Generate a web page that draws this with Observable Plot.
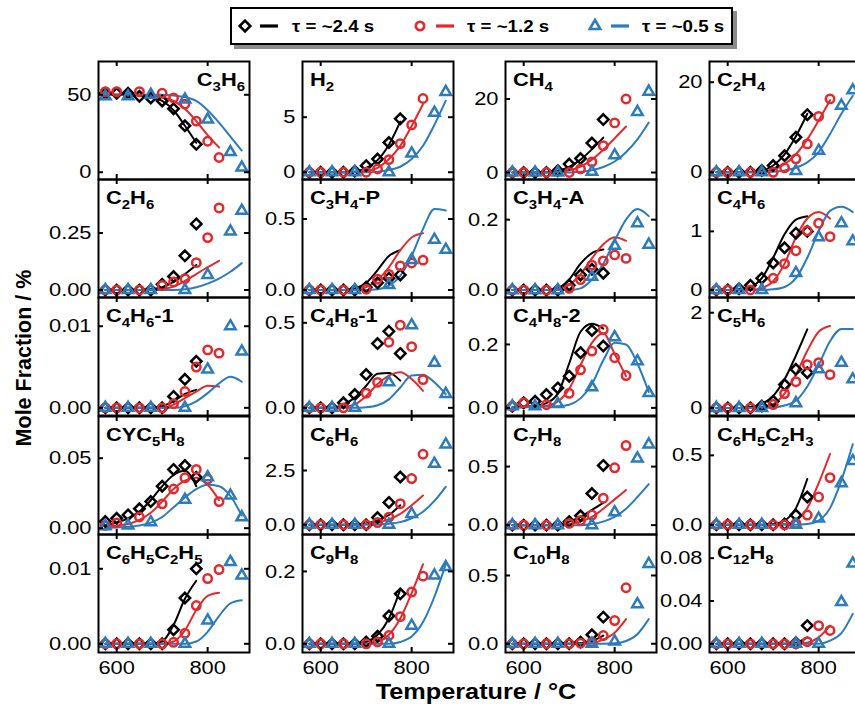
<!DOCTYPE html>
<html><head><meta charset="utf-8">
<script src="https://cdn.jsdelivr.net/npm/d3@7"></script>
<script src="https://cdn.jsdelivr.net/npm/@observablehq/plot@0.6"></script>
<style>
html,body{margin:0;padding:0;background:#fff;}
#root{position:relative;width:855px;height:704px;overflow:hidden;font-family:"Liberation Sans",Arial,sans-serif;}
.panel{position:absolute;}
#legend{position:absolute;left:230px;top:7px;width:503px;height:38px;box-sizing:border-box;border:2px solid #000;background:#fff;box-shadow:4px 4px 0 #8c8c8c;}
</style></head><body><div id="root"></div>
<script>
// ---------------- data ----------------
const species = ["C3H6","H2","CH4","C2H4","C2H6","C3H4-P","C3H4-A","C4H6","C4H6-1","C4H8-1","C4H8-2","C5H6","CYC5H8","C6H6","C7H8","C6H5C2H3","C6H5C2H5","C9H8","C10H8","C12H8"];
const legendLabels = ["τ = ~2.4 s","τ = ~1.2 s","τ = ~0.5 s"];
const xTicks = [600, 800];
const xTitle = "Temperature / °C";
const yTitle = "Mole Fraction / %";
const yTicks = [[0,50],[0,5],[0,20],[0,20],[0,0.25],[0,0.5],[0,0.2],[0,1],[0,0.01],[0,0.5],[0,0.2],[0,2],[0,0.05],[0,2.5],[0,0.5],[0,0.5],[0,0.01],[0,0.2],[0,0.5],[0,0.04,0.08]];
const yTickLabels = [["0","50"],["0","5"],["0","20"],["0","20"],["0.00","0.25"],["0.0","0.5"],["0.0","0.2"],["0","1"],["0.00","0.01"],["0.0","0.5"],["0.0","0.2"],["0","2"],["0.00","0.05"],["0.0","2.5"],["0.0","0.5"],["0.0","0.5"],["0.00","0.01"],["0.0","0.2"],["0.0","0.5"],["0.00","0.04","0.08"]];
const yDomains = [[-4.7,71.5],[-0.66,10.06],[-1.9,30.2],[-1.6,24.6],[-0.033,0.485],[-0.053,0.778],[-0.021,0.314],[-0.129,1.886],[-0.00094,0.01352],[-0.045,0.649],[-0.024,0.348],[-0.16,2.32],[-0.0045,0.0798],[-0.45,4.99],[-0.08,0.928],[-0.07,0.78],[-0.00116,0.01457],[-0.024,0.302],[-0.064,0.8],[-0.0081,0.1021]];

// measured temperatures (°C)
const T24 = [575,600,625,650,675,700,725,750,775];
const T12 = [575,600,650,700,725,750,775,800,825];
const T05 = [575,625,675,750,800,850,875];
// model temperatures (°C)
const M24 = [575,600,625,650,675,700,725,750,775];
const M12 = [575,600,625,650,675,700,725,750,775,800,825];
const M05 = [575,600,625,650,675,700,725,750,775,800,825,850,875];

// experiment, tau ~2.4 s (black diamonds)
const expBlack = [
 [51,51,51,49,48,46,41,30,18],
 [0,0,0,0,0.1,0.6,1.2,2.7,4.85],
 [0,0,0,0,0.5,2.3,3.8,8,14.4],
 [0,0,0,0,0.4,1.5,3.7,7.8,12.8],
 [0,0,0,0,0,0.025,0.059,0.15,0.29],
 [0,0,0,0,0,0.02,0.05,0.083,0.106],
 [0,0,0,0,0,0.014,0.043,0.059,0.048],
 [0,0,0.02,0.08,0.2,0.46,0.72,0.97,1.0],
 [0,0,0,0,0,0,0.0014,0.0035,0.0057],
 [0,0,0,0.03,0.078,0.196,0.378,0.45,0.32],
 [0.005,0.016,0.021,0.042,0.063,0.1,0.174,0.244,0.195],
 [0,0,0,0,0.04,0.14,0.49,0.81,0.74],
 [0.0048,0.0071,0.0095,0.0139,0.019,0.03,0.042,0.0448,0.0364],
 [0,0,0,0,0,0,0.33,1.03,2.2],
 [0,0,0,0,0,0.03,0.08,0.27,0.51],
 [0,0,0,0,0,0,0.005,0.07,0.2],
 [0,0,0,0,0,0,0.00187,0.0061,0.01],
 [0,0,0,0,0,0.005,0.021,0.077,0.138],
 [0,0,0,0,0,0,0.012,0.066,0.195],
 [0,0,0,0,0,0,0,0.001,0.017]
];
// experiment, tau ~1.2 s (red circles)
const expRed = [
 [52,52,52,51,48,44,33,20,9.5],
 [0,0,0,0,0.3,1.15,2.6,4.3,6.7],
 [0,0,0,0,1,2.9,7.3,13.5,20],
 [0,0,0,0,1,3,6.3,12.4,16.3],
 [0,0,0,0.02,0.035,0.05,0.12,0.23,0.36],
 [0,0,0,0.005,0.076,0.11,0.17,0.19,0.21],
 [0,0,0,0.005,0.03,0.071,0.083,0.1,0.09],
 [0,0,0,0.2,0.45,0.67,1.01,1.14,0.91],
 [0,0,0,0,0.0005,0.002,0.005,0.0071,0.0067],
 [0,0,0,0.086,0.15,0.386,0.486,0.36,0.166],
 [0.005,0.016,0.01,0.046,0.12,0.179,0.247,0.158,0.102],
 [0,0,0,0.07,0.3,0.55,0.91,0.95,0.7],
 [0.002,0.0038,0.008,0.0174,0.028,0.036,0.042,0.035,0.019],
 [0,0,0,0,0.1,0.35,0.97,2.13,3.25],
 [0,0,0,0.015,0.04,0.086,0.23,0.49,0.68],
 [0,0,0,0,0,0.01,0.07,0.2,0.34],
 [0,0,0,0,0.0002,0.0014,0.0051,0.0087,0.0099],
 [0,0,0,0,0.005,0.023,0.075,0.143,0.187],
 [0,0,0,0,0.005,0.012,0.06,0.17,0.41],
 [0,0,0,0,0,0,0.002,0.017,0.0125]
];
// experiment, tau ~0.5 s (blue triangles)
const expBlue = [
 [49,49,50,47,34,13,3],
 [0,0,0,0,1.7,5.4,7.3],
 [0,0,0,0.2,4.7,16.5,22],
 [0,0,0,0.3,4.8,14.8,18.2],
 [0,0,0,0,0.066,0.257,0.348],
 [0,0,0,0.035,0.212,0.354,0.283],
 [0,0,0,0.038,0.126,0.19,0.129],
 [0,0,0,0.29,0.9,1.14,0.83],
 [0,0,0,0,0.0047,0.01,0.0069],
 [0,0,0,0.15,0.486,0.265,0.082],
 [0.005,0.005,0.012,0.065,0.223,0.147,0.047],
 [0,0,0,0.1,0.81,0.95,0.6],
 [0.0015,0.002,0.0043,0.0203,0.0364,0.0233,0.0079],
 [0,0,0,0,0.5,2.81,3.7],
 [0,0,0,0,0.11,0.57,0.69],
 [0,0,0,0,0.045,0.3,0.46],
 [0,0,0,0,0.0031,0.0109,0.0091],
 [0,0,0,0,0.05,0.189,0.212],
 [0,0,0,0,0.017,0.29,0.585],
 [0,0,0,0,0,0.039,0.075]
];
// model, tau ~2.4 s (black lines)
const modBlack = [
 [50,50,50,49.5,48.5,46,40,30,19],
 [0,0,0,0,0.05,0.4,1.1,2.5,4.6],
 [0,0,0,0.1,0.5,1.5,3.5,6.3,9.5],
 [0,0,0,0.1,0.4,1.5,4,8,13],
 [0,0,0,0,0.003,0.012,0.035,0.07,0.11],
 [0,0,0,0,0.01,0.05,0.14,0.24,0.28],
 [0,0,0,0,0.005,0.03,0.075,0.105,0.115],
 [0,0,0.01,0.05,0.2,0.55,0.95,1.2,1.26],
 [0,0,0,0,0,0.0002,0.0008,0.0017,0.0022],
 [0,0,0,0.02,0.06,0.13,0.2,0.205,0.16],
 [0.002,0.004,0.007,0.015,0.045,0.14,0.24,0.265,0.25],
 [0,0,0,0.02,0.08,0.25,0.6,1.1,1.65],
 [0.002,0.004,0.007,0.012,0.02,0.03,0.038,0.041,0.03],
 [0,0,0,0,0.02,0.06,0.2,0.45,0.9],
 [0,0,0,0,0.005,0.03,0.07,0.13,0.19],
 [0,0,0,0,0,0.005,0.03,0.12,0.33],
 [0,0,0,0,0,0.0003,0.0025,0.006,0.0084],
 [0,0,0,0,0,0.005,0.025,0.07,0.15],
 [0,0,0,0,0,0,0.005,0.02,0.06],
 [0,0,0,0,0,0,0,0.001,0.006]
];
// model, tau ~1.2 s (red lines)
const modRed = [
 [50,50,50,50,49.5,48.5,46,41,33,24,16],
 [0,0,0,0,0,0.1,0.4,1.2,2.4,4.2,6.2],
 [0,0,0,0,0.1,0.6,1.6,3.5,6.2,9.3,12.5],
 [0,0,0,0,0.2,0.6,1.8,4,7.3,11.5,16],
 [0,0,0,0,0,0.004,0.015,0.04,0.07,0.1,0.128],
 [0,0,0,0,0,0.02,0.07,0.16,0.28,0.37,0.4],
 [0,0,0,0,0.003,0.015,0.045,0.09,0.13,0.15,0.14],
 [0,0,0,0,0.03,0.15,0.45,0.9,1.22,1.33,1.22],
 [0,0,0,0,0,0,0.0004,0.0012,0.002,0.0027,0.0026],
 [0,0,0,0.005,0.02,0.07,0.14,0.19,0.21,0.17,0.1],
 [0.001,0.002,0.004,0.007,0.02,0.06,0.135,0.205,0.235,0.17,0.1],
 [0,0,0,0,0.02,0.08,0.3,0.7,1.2,1.6,1.72],
 [0.001,0.002,0.003,0.006,0.011,0.019,0.028,0.034,0.036,0.031,0.02],
 [0,0,0,0,0,0.03,0.1,0.25,0.5,0.9,1.35],
 [0,0,0,0,0,0.01,0.03,0.07,0.14,0.22,0.3],
 [0,0,0,0,0,0,0.005,0.03,0.12,0.3,0.51],
 [0,0,0,0,0,0,0.0003,0.0018,0.0045,0.0064,0.0068],
 [0,0,0,0,0,0,0.005,0.025,0.07,0.14,0.22],
 [0,0,0,0,0,0,0,0.005,0.03,0.08,0.18],
 [0,0,0,0,0,0,0,0,0.001,0.006,0.017]
];
// model, tau ~0.5 s (blue lines)
const modBlue = [
 [50,50,50,50,50,50,49.5,48.5,46,40,32,23,14],
 [0,0,0,0,0,0,0.05,0.2,0.5,1.2,2.4,4.3,6.5],
 [0,0,0,0,0,0,0.2,0.6,1.5,3,5.5,9,13.6],
 [0,0,0,0,0,0.1,0.4,1,2.2,4.5,8.5,13,17],
 [0,0,0,0,0,0,0,0.003,0.012,0.028,0.05,0.08,0.118],
 [0,0,0,0,0,0,0.005,0.03,0.1,0.24,0.43,0.57,0.56],
 [0,0,0,0,0,0,0.005,0.03,0.075,0.14,0.2,0.23,0.21],
 [0,0,0,0,0,0.01,0.05,0.2,0.55,1.0,1.35,1.42,1.33],
 [0,0,0,0,0,0,0,0.0002,0.0008,0.0018,0.003,0.0038,0.0032],
 [0,0,0,0,0,0.003,0.015,0.05,0.12,0.19,0.195,0.15,0.08],
 [0.001,0.002,0.003,0.004,0.005,0.01,0.03,0.075,0.15,0.205,0.2,0.14,0.05],
 [0,0,0,0,0,0.01,0.05,0.15,0.45,0.9,1.4,1.66,1.66],
 [0,0.0005,0.001,0.002,0.004,0.008,0.015,0.022,0.028,0.031,0.03,0.023,0.009],
 [0,0,0,0,0,0,0.02,0.05,0.12,0.3,0.6,1.1,1.75],
 [0,0,0,0,0,0,0,0.01,0.03,0.07,0.14,0.24,0.35],
 [0,0,0,0,0,0,0,0,0.005,0.03,0.12,0.32,0.58],
 [0,0,0,0,0,0,0,0,0.0003,0.0016,0.0037,0.0054,0.0058],
 [0,0,0,0,0,0,0,0,0.005,0.02,0.06,0.13,0.22],
 [0,0,0,0,0,0,0,0,0,0.003,0.02,0.07,0.18],
 [0,0,0,0,0,0,0,0,0,0,0.003,0.01,0.028]
];

// ---------------- layout & style ----------------
const W = 151, H = 118;
const colLefts = [98, 301.5, 505, 708.5];
const rowTops = [61, 179.2, 297.4, 415.6, 533.8];
const ML = 70, MR = 14, MTOP = 12, MB = 40;
const xDomain = [560, 892];
const C = {black: "#000000", red: "#e3292d", blue: "#2b7bbd"};
const FONT = '"Liberation Sans", Arial, sans-serif';
const SX = 1.15; // horizontal stretch of the lettering

const root = d3.select("#root");

function stretchTexts(svg) {
  svg.querySelectorAll("text").forEach(t => {
    const tr = t.getAttribute("transform");
    if (tr) t.setAttribute("transform", tr + ` scale(${SX},1)`);
    else {
      const x = +(t.getAttribute("x") || 0), y = +(t.getAttribute("y") || 0);
      t.removeAttribute("x"); t.removeAttribute("y");
      t.setAttribute("transform", `translate(${x},${y}) scale(${SX},1)`);
    }
  });
}

function addFormula(sel, name, x, y, anchorEnd, size, subSize, shift) {
  const t = sel.append("text")
    .attr("transform", `translate(${x},${y}) scale(${SX},1)`)
    .attr("text-anchor", anchorEnd ? "end" : "start")
    .attr("fill", "#000")
    .style("font-family", FONT).style("font-weight", "bold").style("font-size", size + "px");
  const parts = name.split(/(\d+)/).filter(p => p !== "");
  let prevSub = false, prevText = "";
  parts.forEach(p => {
    const isDigit = /^\d+$/.test(p);
    const sub = isDigit && !prevText.endsWith("-");
    let dy = 0;
    if (sub && !prevSub) dy = shift;
    if (!sub && prevSub) dy = -shift;
    t.append("tspan").attr("dy", dy).style("font-size", (sub ? subSize : size) + "px").text(p);
    prevSub = sub; prevText = p;
  });
}

const pts = (T, arr) => T.map((t, j) => ({t, v: arr[j]})).filter(d => d.v != null);

species.forEach((name, i) => {
  const row = Math.floor(i / 4), col = i % 4;
  const lbl = new Map(yTicks[i].map((v, j) => [v, yTickLabels[i][j]]));
  const marks = [
    Plot.line(pts(M24, modBlack[i]), {x: "t", y: "v", stroke: C.black, strokeWidth: 2, curve: "monotone-x"}),
    Plot.line(pts(M12, modRed[i]), {x: "t", y: "v", stroke: C.red, strokeWidth: 2, curve: "monotone-x"}),
    Plot.line(pts(M05, modBlue[i]), {x: "t", y: "v", stroke: C.blue, strokeWidth: 2, curve: "monotone-x"}),
    Plot.dot(pts(T24, expBlack[i]), {x: "t", y: "v", symbol: "diamond2", r: 4.7, stroke: C.black, strokeWidth: 2.5, fill: "none"}),
    Plot.dot(pts(T12, expRed[i]), {x: "t", y: "v", symbol: "circle", r: 4.2, stroke: C.red, strokeWidth: 2.5, fill: "none"}),
    Plot.dot(pts(T05, expBlue[i]), {x: "t", y: "v", symbol: "triangle2", r: 5.0, stroke: C.blue, strokeWidth: 2.5, fill: "none"}),
    Plot.frame({strokeWidth: 2}),
    Plot.tickY(yTicks[i], {insetRight: W - 5, strokeWidth: 2}),
    Plot.tickY(yTicks[i], {insetLeft: W - 5, strokeWidth: 2}),
    Plot.tickX(xTicks, {insetBottom: H - 5, strokeWidth: 2}),
    Plot.tickX(xTicks, {insetTop: H - 5, strokeWidth: 2}),
    Plot.axisY(yTicks[i], {tickSize: 0, tickPadding: 7, tickFormat: d => lbl.get(d), fontSize: 19, label: null})
  ];
  if (row === 4) marks.push(Plot.axisX(xTicks, {tickSize: 0, tickPadding: 8, fontSize: 19, label: null}));
  const svg = Plot.plot({
    width: ML + W + MR, height: MTOP + H + MB,
    marginLeft: ML, marginRight: MR, marginTop: MTOP, marginBottom: MB,
    x: {domain: xDomain, axis: null, label: null},
    y: {domain: yDomains[i], axis: null, label: null},
    style: {background: "transparent", overflow: "visible", maxWidth: "none", fontFamily: FONT, fontSize: "19px", color: "#000"},
    marks
  });
  stretchTexts(svg);
  const rightTitle = name === "C3H6";
  addFormula(d3.select(svg), name, rightTitle ? ML + W - 4 : ML + 8, MTOP + 25, rightTitle, 19, 13, 5);
  root.append("div").attr("class", "panel")
    .style("left", (colLefts[col] - ML) + "px").style("top", (rowTops[row] - MTOP) + "px")
    .node().appendChild(svg);
});

// axis titles
const titles = root.append("svg").attr("width", 855).attr("height", 704)
  .style("position", "absolute").style("left", 0).style("top", 0).style("pointer-events", "none");
titles.append("text").attr("transform", "translate(31,358) rotate(-90)")
  .attr("text-anchor", "middle").style("font-family", FONT).style("font-weight", "bold").style("font-size", "21.5px").text(yTitle);
titles.append("text").attr("transform", `translate(476,699) scale(${SX},1)`)
  .attr("text-anchor", "middle").style("font-family", FONT).style("font-weight", "bold").style("font-size", "22px").text(xTitle);

// legend
const lg = root.append("div").attr("id", "legend");
const lsvg = lg.append("svg").attr("width", 499).attr("height", 34).style("display", "block");
const legendItems = [
  {sym: d3.symbolDiamond2, r: 4.8, color: C.black, sx: 13, lx: 28, tx: 60},
  {sym: d3.symbolCircle, r: 4.2, color: C.red, sx: 188, lx: 204, tx: 235},
  {sym: d3.symbolTriangle2, r: 5.0, color: C.blue, sx: 363, lx: 379, tx: 410}
];
legendItems.forEach((it, k) => {
  lsvg.append("path").attr("d", d3.symbol(it.sym, Math.PI * it.r * it.r)())
    .attr("transform", `translate(${it.sx},17)`).attr("fill", "none").attr("stroke", it.color).attr("stroke-width", 2.6);
  lsvg.append("line").attr("x1", it.lx).attr("x2", it.lx + 18).attr("y1", 17).attr("y2", 17)
    .attr("stroke", it.color).attr("stroke-width", 3.2);
  lsvg.append("text").attr("transform", `translate(${it.tx},23) scale(1.1,1)`)
    .style("font-family", FONT).style("font-weight", "bold").style("font-size", "17px").text(legendLabels[k]);
});
</script>
</body></html>
